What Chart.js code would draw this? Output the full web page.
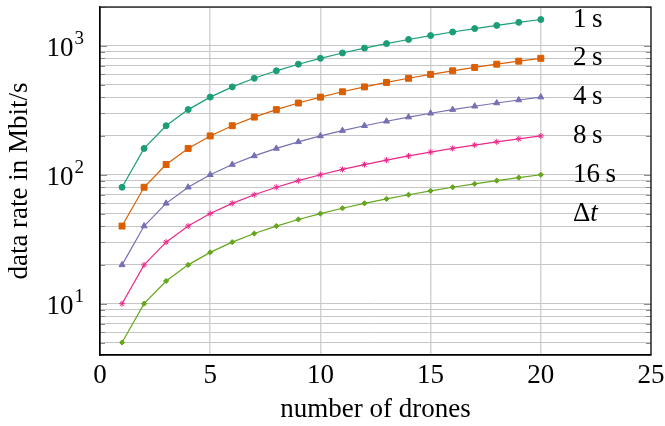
<!DOCTYPE html>
<html>
<head>
<meta charset="utf-8">
<script src="https://cdn.jsdelivr.net/npm/chart.js@4"></script>
<style>
  html, body { margin: 0; padding: 0; background: #fff; }
  #wrap { width: 665px; height: 426px; }
</style>
</head>
<body>
<div id="wrap"><canvas id="rateChart" width="665" height="426"></canvas></div>
<script>
// number of drones
const drones = [1, 2, 3, 4, 5, 6, 7, 8, 9, 10, 11, 12, 13, 14, 15, 16, 17, 18, 19, 20];

// data rate in Mbit/s for each update interval
const rate1s = [80, 160, 240, 320, 400, 480, 560, 640, 720, 800, 880, 960, 1040, 1120, 1200, 1280, 1360, 1440, 1520, 1600];
const rate2s = [40, 80, 120, 160, 200, 240, 280, 320, 360, 400, 440, 480, 520, 560, 600, 640, 680, 720, 760, 800];
const rate4s = [20, 40, 60, 80, 100, 120, 140, 160, 180, 200, 220, 240, 260, 280, 300, 320, 340, 360, 380, 400];
const rate8s = [10, 20, 30, 40, 50, 60, 70, 80, 90, 100, 110, 120, 130, 140, 150, 160, 170, 180, 190, 200];
const rate16s = [5, 10, 15, 20, 25, 30, 35, 40, 45, 50, 55, 60, 65, 70, 75, 80, 85, 90, 95, 100];

// text labels on the right of the plot, with the value they sit at
const noteLabels = ["1\u2009s", "2\u2009s", "4\u2009s", "8\u2009s", "16\u2009s", "\u0394t"];
const noteValues = [1600, 800, 400, 200, 100, 50];

// y gridlines (log scale) and labelled decades
const yTicks = [4, 5, 6, 7, 8, 9, 10, 20, 30, 40, 50, 60, 70, 80, 90, 100, 200, 300, 400, 500, 600, 700, 800, 900, 1000, 2000];
const yDecades = [10, 100, 1000];
const yExponents = ["1", "2", "3"];

const serif = "'Liberation Serif', 'DejaVu Serif', serif";
const fontSize = 27;

function toPoints(values) {
  return values.map((v, i) => ({ x: drones[i], y: v }));
}

// black frame, inward ticks, decade labels with superscripts, text labels
const framePlugin = {
  id: "frame",
  afterDraw(chart) {
    const { ctx, chartArea: a, scales } = chart;
    ctx.save();
    ctx.strokeStyle = "#8a8a8a";
    ctx.lineWidth = 1;
    yTicks.forEach(v => {
      const y = Math.round(scales.y.getPixelForValue(v)) + 0.5;
      const len = yDecades.includes(v) ? 7 : 5;
      ctx.beginPath();
      ctx.moveTo(a.left, y); ctx.lineTo(a.left + len, y);
      ctx.moveTo(a.right, y); ctx.lineTo(a.right - len, y);
      ctx.stroke();
    });
    ctx.strokeStyle = "#000";
    ctx.lineWidth = 1.2;
    ctx.strokeRect(a.left, a.top, a.right - a.left, a.bottom - a.top);

    ctx.fillStyle = "#000";
    // y decade labels: 10 with raised exponent
    ctx.textBaseline = "alphabetic";
    yDecades.forEach((v, i) => {
      const y = scales.y.getPixelForValue(v);
      ctx.font = "19px " + serif;
      const ew = ctx.measureText(yExponents[i]).width;
      const right = a.left - 16;
      ctx.fillText(yExponents[i], right - ew, y - 2);
      ctx.font = fontSize + "px " + serif;
      const bw = ctx.measureText("10").width;
      ctx.fillText("10", right - ew - bw - 1, y + 10);
    });

    ctx.textBaseline = "middle";
    ctx.textAlign = "left";
    noteLabels.forEach((t, i) => {
      const y = scales.y.getPixelForValue(noteValues[i]);
      const x = 573;
      if (t.startsWith("\u0394")) {
        ctx.font = fontSize + "px " + serif;
        ctx.fillText("\u0394", x, y);
        const w = ctx.measureText("\u0394").width;
        ctx.font = "italic " + fontSize + "px " + serif;
        ctx.fillText("t", x + w, y);
      } else {
        ctx.font = fontSize + "px " + serif;
        ctx.fillText(t, x, y);
      }
    });
    ctx.restore();
  }
};

function series(label, values, color, style, radius) {
  return {
    label: label,
    data: toPoints(values),
    borderColor: color,
    backgroundColor: color,
    borderWidth: 1.2,
    pointStyle: style,
    pointRadius: radius,
    pointBorderWidth: 1,
    pointBorderColor: color,
    pointBackgroundColor: color,
    tension: 0
  };
}

new Chart(document.getElementById("rateChart"), {
  type: "line",
  data: {
    datasets: [
      series("1 s", rate1s, "#1b9e77", "circle", 3),
      series("2 s", rate2s, "#d95f02", "rect", 4.2),
      series("4 s", rate4s, "#7570b3", "triangle", 3.5),
      series("8 s", rate8s, "#e7298a", "star", 3),
      series("16 s", rate16s, "#66a61e", "rectRot", 2.6)
    ]
  },
  options: {
    responsive: false,
    animation: false,
    devicePixelRatio: 1,
    layout: { padding: { top: 7, right: 14, left: 0, bottom: 0 } },
    plugins: { legend: { display: false }, tooltip: { enabled: false } },
    scales: {
      x: {
        type: "linear",
        min: 0,
        max: 25,
        ticks: { stepSize: 5, color: "#000", font: { family: serif, size: fontSize }, padding: 5 },
        grid: { color: "#d4d4d4", lineWidth: 1.5, drawTicks: false },
        border: { color: "#000", width: 1.2 },
        title: { display: true, text: "number of drones", color: "#000", font: { family: serif, size: fontSize }, padding: { top: 4, bottom: 0 } },
        afterFit(scale) { scale.height = 71; scale.paddingLeft = 0; scale.paddingRight = 0; }
      },
      y: {
        type: "logarithmic",
        min: 4,
        max: 2000,
        afterBuildTicks(scale) { scale.ticks = yTicks.map(v => ({ value: v })); },
        ticks: {
          autoSkip: false,
          font: { family: serif, size: fontSize },
          callback: () => ""
        },
        grid: { color: "#c6c6c6", lineWidth: 1, drawTicks: false },
        border: { color: "#000", width: 1.2 },
        title: { display: true, text: "data rate in Mbit/s", color: "#000", font: { family: serif, size: fontSize }, padding: { top: 4, bottom: 0 } },
        afterFit(scale) { scale.width = 100; scale.paddingTop = 0; scale.paddingBottom = 0; }
      }
    }
  },
  plugins: [framePlugin]
});
</script>
</body>
</html>
